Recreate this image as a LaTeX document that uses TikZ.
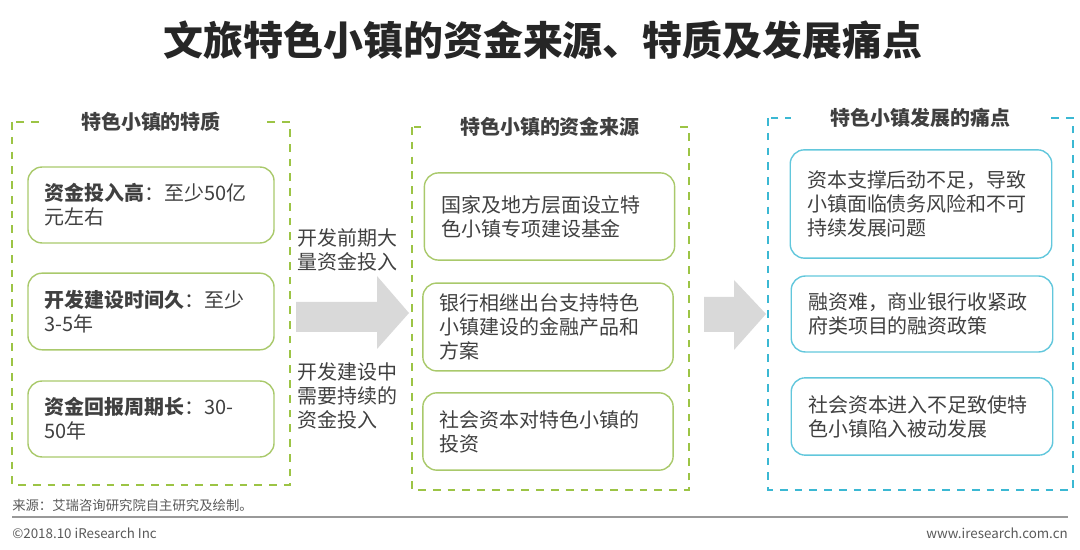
\documentclass[tikz,border=0pt]{standalone}
\usepackage{fontspec}
\setmainfont{Noto Sans CJK SC}
\usetikzlibrary{positioning}

\definecolor{framegreen}{HTML}{9CC445}
\definecolor{boxgreen}{HTML}{A9C96B}
\definecolor{framecyan}{HTML}{3BB8D3}
\definecolor{boxcyan}{HTML}{62C7DC}
\definecolor{arrowgray}{HTML}{D9D9D9}
\definecolor{textgray}{HTML}{404040}

\begin{document}
\begin{tikzpicture}[x=0.025cm,y=-0.025cm,
  body/.style={font=\fontsize{14.2pt}{17pt}\selectfont, text=textgray},
  frame/.style={line width=1.5pt, dash pattern=on 5.5pt off 5pt},
  head/.style={fill=white, inner xsep=28pt, inner ysep=2pt, font=\fontsize{14.2pt}{17pt}\selectfont\bfseries, text=textgray},
  card/.style={body, rounded corners=10pt, line width=1pt, align=left, inner xsep=12pt, minimum width=#1, text width=#1-24pt},
  gcard/.style={card=#1, draw=boxgreen},
  ccard/.style={card=#1, draw=boxcyan}]

\useasboundingbox (0,0) rectangle (1080,550);

\node[font=\fontsize{28.4pt}{32pt}\selectfont\bfseries, text=black!85] (title) at (543,40) {文旅特色小镇的资金来源、特质及发展痛点};

% 特质
\draw[frame, draw=framegreen] (12,122) rectangle (290,485);
\node[head] (hl) at (151,122) {特色小镇的特质};
\node[gcard=175pt, minimum height=54pt] (l1) at (151,205) {\textbf{资金投入高}：至少50亿\\元左右};
\node[gcard=175pt, minimum height=54.5pt] (l2) at (151,311.5) {\textbf{开发建设时间久}：至少\\3-5年};
\node[gcard=175pt, minimum height=54pt] (l3) at (151,419) {\textbf{资金回报周期长}：30-\\50年};

% 资金来源
\draw[frame, draw=framegreen] (412,127) rectangle (689,490);
\node[head] (hm) at (550,127) {特色小镇的资金来源};
\node[gcard=178pt, minimum height=62pt] (m1) at (549.5,216.5) {国家及地方层面设立特\\色小镇专项建设基金};
\node[gcard=178pt, minimum height=62.5pt] (m2) at (548,327) {银行相继出台支持特色\\小镇建设的金融产品和\\方案};
\node[gcard=178pt, minimum height=55pt] (m3) at (548,431.5) {社会资本对特色小镇的\\投资};

% 痛点
\draw[frame, draw=framecyan] (768,118) rectangle (1073,490);
\node[head] (hr) at (920.5,118) {特色小镇发展的痛点};
\node[ccard=186pt, minimum height=77pt] (r1) at (921,204) {资本支撑后劲不足，导致\\小镇面临债务风险和不可\\持续发展问题};
\node[ccard=186pt, minimum height=54pt] (r2) at (922,314) {融资难，商业银行收紧政\\府类项目的融资政策};
\node[ccard=186pt, minimum height=55pt] (r3) at (922,416.5) {社会资本进入不足致使特\\色小镇陷入被动发展};

% 箭头
\fill[arrowgray] (296,302) -- (377,302) -- (377,276) -- (409,313) -- (377,349) -- (377,332) -- (296,332) -- cycle;
\fill[arrowgray] (704,297) -- (734,297) -- (734,280) -- (766,314) -- (734,350) -- (734,332) -- (704,332) -- cycle;
\node[body, align=left, anchor=west, inner sep=0pt] (a1) at (297,250) {开发前期大\\量资金投入};
\node[body, align=left, anchor=west, inner sep=0pt] (a2) at (297,396) {开发建设中\\需要持续的\\资金投入};

% 页脚
\node[font=\fontsize{9.5pt}{11pt}\selectfont, text=black!65, anchor=west, inner sep=0pt] (src) at (12,505) {来源：艾瑞咨询研究院自主研究及绘制。};
\draw[line width=1.4pt, black!40] (12,517) -- (1068,517);
\node[font=\fontsize{9.5pt}{11pt}\selectfont, text=black!65, anchor=west, inner sep=0pt] (copy) at (12,533) {©2018.10 iResearch Inc};
\node[font=\fontsize{9.5pt}{11pt}\selectfont, text=black!65, anchor=east, inner sep=0pt] (web) at (1068,533) {www.iresearch.com.cn};

\end{tikzpicture}
\end{document}
